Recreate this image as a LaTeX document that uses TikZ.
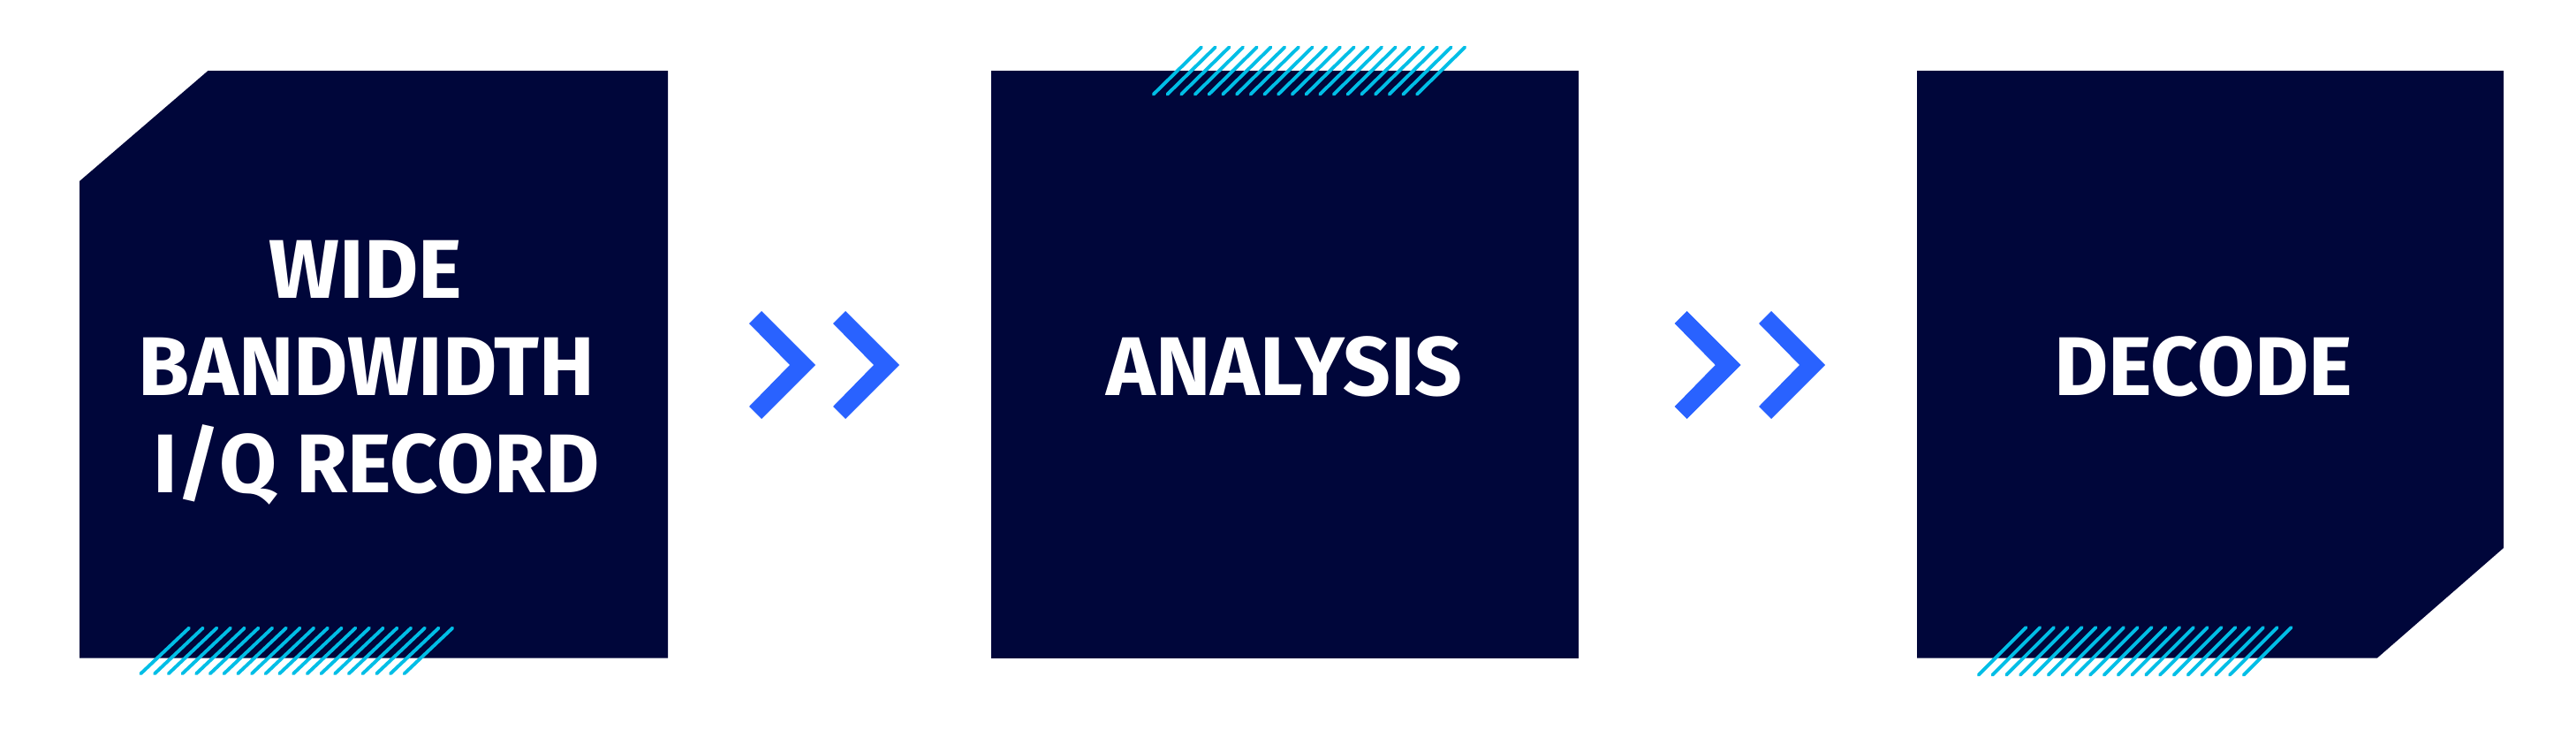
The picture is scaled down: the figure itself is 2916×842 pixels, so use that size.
\documentclass[tikz,border=0pt]{standalone}
\usepackage{fontspec}
\setmainfont{Fira Sans}
\definecolor{navy}{RGB}{0,6,58}
\definecolor{chevblue}{RGB}{41,98,255}
\definecolor{hatchcyan}{RGB}{0,190,230}
\begin{document}
\begin{tikzpicture}[x=0.01cm,y=-0.01cm,
  boxfill/.style={fill=navy},
  hatchline/.style={draw=hatchcyan,line width=1.1pt,line cap=round},
  boxlabel/.style={text=white,font=\fontsize{26.8}{31.2}\selectfont\bfseries,inner sep=0pt,anchor=base},
  chevron/.pic={\fill[chevblue] (0,-47) -- (14,-61) -- (75,0) -- (14,61) -- (0,47) -- (46,0) -- cycle;}]
\useasboundingbox (0,0) rectangle (2916,842);
% boxes
\fill[boxfill] (90,205) -- (235.5,80) -- (756,80) -- (756,744.5) -- (90,744.5) -- cycle;
\fill[boxfill] (1122,80) rectangle (1787,744.5);
\fill[boxfill] (2170,80) -- (2834,80) -- (2834,620) -- (2691,744.5) -- (2170,744.5) -- cycle;
% hatches
\foreach \i in {0,...,19} \draw[hatchline] ({159.3+15.7*\i},762.3) -- ++(54.7,-51.7);
\foreach \i in {0,...,19} \draw[hatchline] ({1305.7+15.7*\i},106.7) -- ++(54.3,-53.3);
\foreach \i in {0,...,19} \draw[hatchline] ({2239.6+15.8*\i},763.7) -- ++(53.8,-53.7);
% chevrons
\pic at (848,413) {chevron};
\pic at (943,413) {chevron};
\pic at (1895.7,413) {chevron};
\pic at (1991,413) {chevron};
% labels
\node[boxlabel] (wide) at (414,337) {WIDE};
\node[boxlabel] (bandwidth) at (415,447) {BANDWIDTH};
\node[boxlabel] (iqrecord) at (426,557) {I/Q RECORD};
\node[boxlabel] (analysis) at (1454,447) {ANALYSIS};
\node[boxlabel] (decode) at (2494,447) {DECODE};
\end{tikzpicture}
\end{document}
